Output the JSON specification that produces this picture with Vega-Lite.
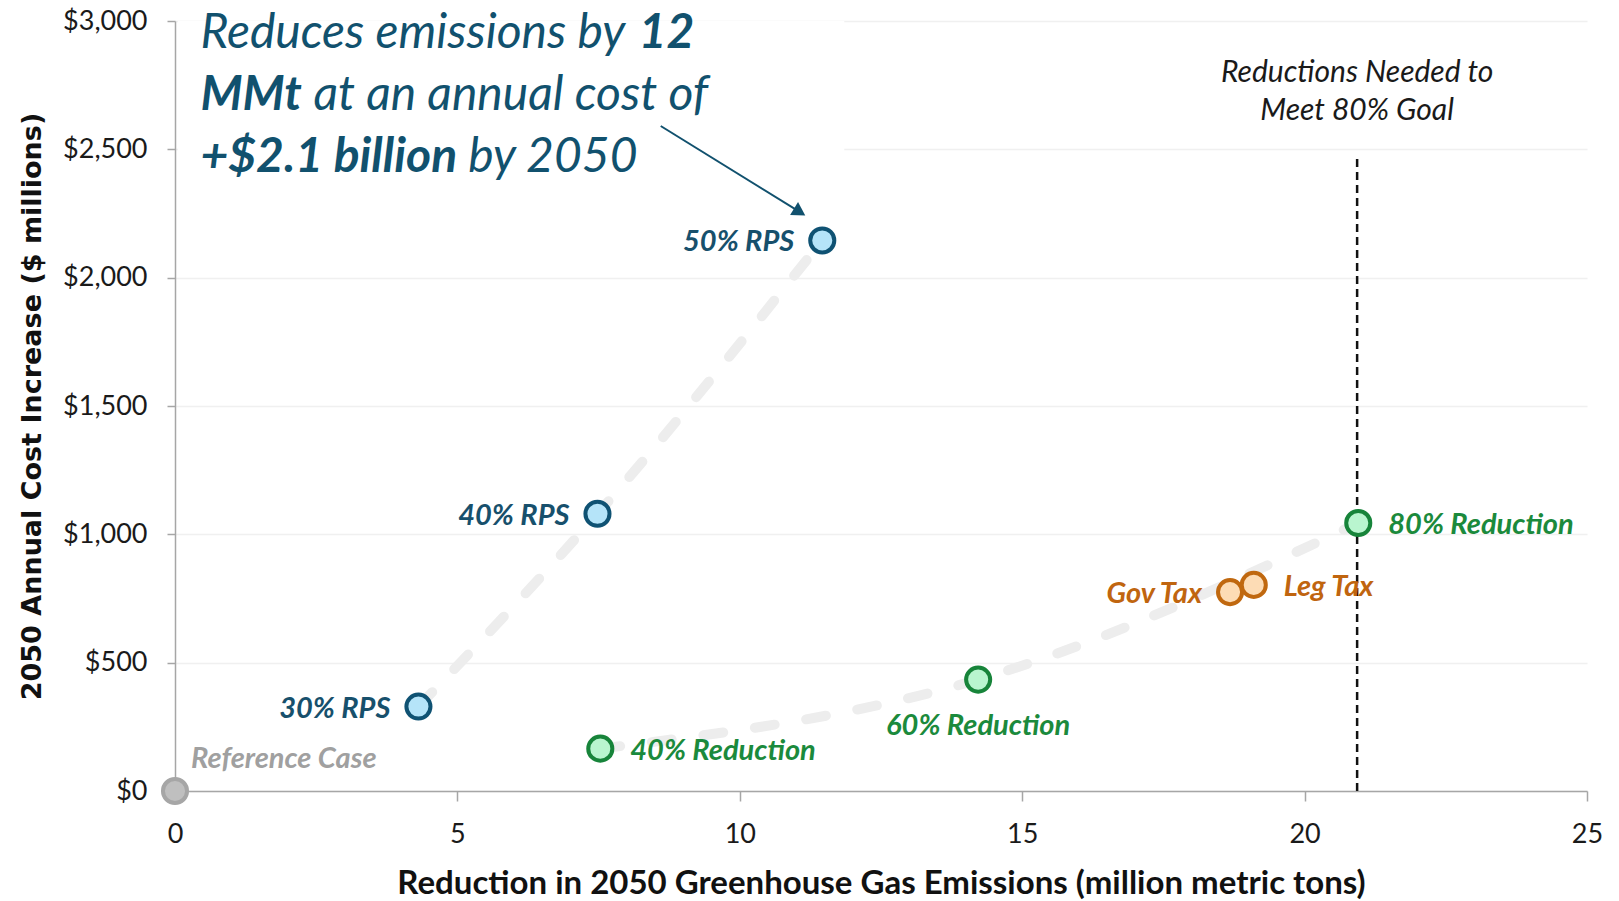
{
  "$schema": "https://vega.github.io/schema/vega-lite/v6.json",
  "autosize": {"type": "none"},
  "padding": {"left": 175, "top": 21, "right": 32, "bottom": 110},
  "width": 1412,
  "height": 770,
  "background": "white",
  "config": {"view": {"stroke": null}, "font": "Lato"},
  "datasets": {
    "pts": [
      {"name": "Reference Case", "group": "Reference", "reduction": 0, "cost": 0},
      {"name": "30% RPS", "group": "RPS", "reduction": 4.31, "cost": 329},
      {"name": "40% RPS", "group": "RPS", "reduction": 7.48, "cost": 1080},
      {"name": "50% RPS", "group": "RPS", "reduction": 11.46, "cost": 2145},
      {"name": "40% Reduction", "group": "Reduction", "reduction": 7.53, "cost": 165},
      {"name": "60% Reduction", "group": "Reduction", "reduction": 14.22, "cost": 434},
      {"name": "Gov Tax", "group": "Tax", "reduction": 18.68, "cost": 775},
      {"name": "Leg Tax", "group": "Tax", "reduction": 19.1, "cost": 803},
      {"name": "80% Reduction", "group": "Reduction", "reduction": 20.95, "cost": 1044}
    ],
    "goal": [{"reduction": 20.93, "cost": 0, "cost2": 2480}],
    "goalText": [{"reduction": 20.93, "cost": 2797, "text": "Reductions Needed to\nMeet 80% Goal"}],
    "box": [{"x": 0.05, "x2": 11.85, "y": 2300, "y2": 3000}],
    "arrow": [{"x": 8.6, "y": 2591, "x2": 11.06, "y2": 2256}],
    "annoNormal": [
      {"x": 0.45, "y": 2949, "text": "Reduces emissions by"},
      {"x": 2.45, "y": 2708, "text": "at an annual cost of"},
      {"x": 5.19, "y": 2466, "text": "by 2050"}
    ],
    "annoBold": [
      {"x": 8.21, "y": 2949, "text": "12"},
      {"x": 0.45, "y": 2708, "text": "MMt"},
      {"x": 0.45, "y": 2466, "text": "+$2.1 billion"}
    ]
  },
  "layer": [
    {
      "data": {"name": "box"},
      "mark": {"type": "rect", "fill": "white", "stroke": null},
      "encoding": {
        "x": {"field": "x", "type": "quantitative", "scale": {"domain": [0, 25], "nice": false, "zero": false},
          "axis": {
            "values": [0, 5, 10, 15, 20, 25],
            "format": "d",
            "labelFlush": false,
            "grid": false,
            "domainColor": "#a6a6a6", "domainWidth": 1.5,
            "tickColor": "#a6a6a6", "tickWidth": 1.5, "tickSize": 10,
            "labelFont": "Lato", "labelFontSize": 27, "labelColor": "#1a1a1a", "labelPadding": 20,
            "title": "Reduction in 2050 Greenhouse Gas Emissions (million metric tons)",
            "titleFont": "Lato", "titleFontSize": 33, "titleFontWeight": "bold", "titleColor": "#111111",
            "titlePadding": 20
          }},
        "x2": {"field": "x2"},
        "y": {"field": "y", "type": "quantitative", "scale": {"domain": [0, 3000], "nice": false, "zero": false},
          "axis": {
            "values": [0, 500, 1000, 1500, 2000, 2500, 3000],
            "format": "$,.0f",
            "labelFlush": false,
            "grid": true, "gridColor": "#f0f0f0", "gridWidth": 1.5,
            "domainColor": "#a6a6a6", "domainWidth": 1.5,
            "tickColor": "#a6a6a6", "tickWidth": 1.5, "tickSize": 8,
            "labelFont": "Lato", "labelFontSize": 27, "labelColor": "#1a1a1a", "labelPadding": 20,
            "title": "2050 Annual Cost Increase ($ millions)",
            "titleFont": "DejaVu Sans", "titleFontSize": 27, "titleFontWeight": "bold", "titleColor": "#111111",
            "titlePadding": 16
          }},
        "y2": {"field": "y2"}
      }
    },
    {
      "data": {"name": "pts"},
      "transform": [{"filter": "datum.group === 'RPS' || datum.group === 'Reduction'"}],
      "mark": {"type": "line", "interpolate": "monotone", "stroke": "#ededed", "strokeWidth": 10, "strokeDash": [20, 32], "strokeCap": "round"},
      "encoding": {
        "x": {"field": "reduction", "type": "quantitative", "scale": {"domain": [0, 25], "nice": false, "zero": false}},
        "y": {"field": "cost", "type": "quantitative", "scale": {"domain": [0, 3000], "nice": false, "zero": false}},
        "detail": {"field": "group"},
        "order": {"field": "reduction"}
      }
    },
    {
      "data": {"name": "goal"},
      "mark": {"type": "rule", "stroke": "#111111", "strokeWidth": 2.5, "strokeDash": [8, 5]},
      "encoding": {
        "x": {"field": "reduction", "type": "quantitative"},
        "y": {"field": "cost", "type": "quantitative"},
        "y2": {"field": "cost2"}
      }
    },
    {
      "data": {"name": "goalText"},
      "mark": {"type": "text", "font": "Lato", "fontStyle": "italic", "fontSize": 30, "color": "#1a1a1a", "align": "center", "baseline": "middle", "lineBreak": "\n", "lineHeight": 38},
      "encoding": {
        "x": {"field": "reduction", "type": "quantitative"},
        "y": {"field": "cost", "type": "quantitative"},
        "text": {"field": "text"}
      }
    },
    {
      "data": {"name": "arrow"},
      "mark": {"type": "rule", "stroke": "#11516e", "strokeWidth": 2},
      "encoding": {
        "x": {"field": "x", "type": "quantitative"},
        "y": {"field": "y", "type": "quantitative"},
        "x2": {"field": "x2"},
        "y2": {"field": "y2"}
      }
    },
    {
      "data": {"name": "arrow"},
      "mark": {"type": "point", "shape": "triangle-up", "filled": true, "fill": "#11516e", "stroke": null, "size": 230, "angle": 121.6, "opacity": 1},
      "encoding": {
        "x": {"field": "x2", "type": "quantitative"},
        "y": {"field": "y2", "type": "quantitative"}
      }
    },
    {
      "data": {"name": "annoNormal"},
      "mark": {"type": "text", "font": "Lato", "fontStyle": "italic", "fontSize": 48, "color": "#11516e", "align": "left", "baseline": "middle"},
      "encoding": {
        "x": {"field": "x", "type": "quantitative"},
        "y": {"field": "y", "type": "quantitative"},
        "text": {"field": "text"}
      }
    },
    {
      "data": {"name": "annoBold"},
      "mark": {"type": "text", "font": "Lato", "fontStyle": "italic", "fontWeight": "bold", "fontSize": 48, "color": "#11516e", "align": "left", "baseline": "middle"},
      "encoding": {
        "x": {"field": "x", "type": "quantitative"},
        "y": {"field": "y", "type": "quantitative"},
        "text": {"field": "text"}
      }
    },
    {
      "data": {"name": "pts"},
      "mark": {"type": "point", "shape": "circle", "filled": true, "size": 580, "strokeWidth": 4, "opacity": 1},
      "encoding": {
        "x": {"field": "reduction", "type": "quantitative", "scale": {"domain": [0, 25], "nice": false, "zero": false}},
        "y": {"field": "cost", "type": "quantitative", "scale": {"domain": [0, 3000], "nice": false, "zero": false}},
        "fill": {"field": "group", "type": "nominal", "legend": null,
          "scale": {"domain": ["Reference", "RPS", "Reduction", "Tax"], "range": ["#bfbfbf", "#b5e4f9", "#b9f5cf", "#fddcb5"]}},
        "stroke": {"field": "group", "type": "nominal", "legend": null,
          "scale": {"domain": ["Reference", "RPS", "Reduction", "Tax"], "range": ["#a6a6a6", "#0f5273", "#17843a", "#c0680f"]}}
      }
    },
    {
      "data": {"name": "pts"},
      "transform": [{"filter": "indexof(['30% RPS','40% RPS','50% RPS','Gov Tax'], datum.name) >= 0"}],
      "mark": {"type": "text", "font": "Lato", "fontStyle": "italic", "fontWeight": "bold", "fontSize": 29, "align": "right", "baseline": "middle", "dx": -28, "dy": 2},
      "encoding": {
        "x": {"field": "reduction", "type": "quantitative"},
        "y": {"field": "cost", "type": "quantitative"},
        "text": {"field": "name"},
        "color": {"field": "group", "type": "nominal", "legend": null,
          "scale": {"domain": ["Reference", "RPS", "Reduction", "Tax"], "range": ["#a0a0a0", "#17506c", "#1b8a3c", "#c0650f"]}}
      }
    },
    {
      "data": {"name": "pts"},
      "transform": [{"filter": "indexof(['40% Reduction','80% Reduction','Leg Tax'], datum.name) >= 0"}],
      "mark": {"type": "text", "font": "Lato", "fontStyle": "italic", "fontWeight": "bold", "fontSize": 29, "align": "left", "baseline": "middle", "dx": 30, "dy": 2},
      "encoding": {
        "x": {"field": "reduction", "type": "quantitative"},
        "y": {"field": "cost", "type": "quantitative"},
        "text": {"field": "name"},
        "color": {"field": "group", "type": "nominal", "legend": null,
          "scale": {"domain": ["Reference", "RPS", "Reduction", "Tax"], "range": ["#a0a0a0", "#17506c", "#1b8a3c", "#c0650f"]}}
      }
    },
    {
      "data": {"name": "pts"},
      "transform": [{"filter": "datum.name === '60% Reduction'"}],
      "mark": {"type": "text", "font": "Lato", "fontStyle": "italic", "fontWeight": "bold", "fontSize": 29, "align": "center", "baseline": "middle", "dy": 46},
      "encoding": {
        "x": {"field": "reduction", "type": "quantitative"},
        "y": {"field": "cost", "type": "quantitative"},
        "text": {"field": "name"},
        "color": {"field": "group", "type": "nominal", "legend": null,
          "scale": {"domain": ["Reference", "RPS", "Reduction", "Tax"], "range": ["#a0a0a0", "#17506c", "#1b8a3c", "#c0650f"]}}
      }
    },
    {
      "data": {"name": "pts"},
      "transform": [{"filter": "datum.name === 'Reference Case'"}],
      "mark": {"type": "text", "font": "Lato", "fontStyle": "italic", "fontWeight": "bold", "fontSize": 29, "align": "left", "baseline": "middle", "dx": 16, "dy": -32},
      "encoding": {
        "x": {"field": "reduction", "type": "quantitative"},
        "y": {"field": "cost", "type": "quantitative"},
        "text": {"field": "name"},
        "color": {"field": "group", "type": "nominal", "legend": null,
          "scale": {"domain": ["Reference", "RPS", "Reduction", "Tax"], "range": ["#a0a0a0", "#17506c", "#1b8a3c", "#c0650f"]}}
      }
    }
  ]
}
